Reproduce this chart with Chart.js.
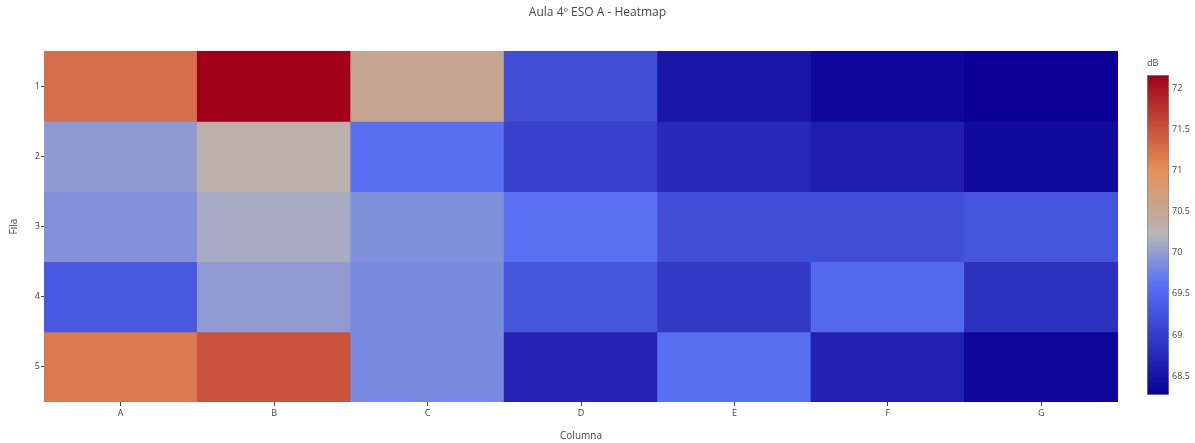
<!DOCTYPE html>
<html>
<head>
<meta charset="utf-8">
<script src="https://cdn.jsdelivr.net/npm/chart.js@4/dist/chart.umd.min.js"></script>
<style>
  body { margin: 0; background: #fff; }
  #wrap { position: relative; width: 1195px; height: 443px; }
  #mapa { position: absolute; left: 0; top: 0; }
  #barra { position: absolute; left: 1145px; top: 50px; }
</style>
</head>
<body>
<div id="wrap">
  <canvas id="mapa" width="1195" height="443"></canvas>
  <canvas id="barra" width="50" height="360"></canvas>
</div>
<script>
// datos (dB)
const columnas = ['A', 'B', 'C', 'D', 'E', 'F', 'G'];
const filas = [1, 2, 3, 4, 5];
const fila1 = [71.27, 72.16, 70.53, 69.20, 68.53, 68.35, 68.27];
const fila2 = [69.97, 70.33, 69.59, 69.04, 68.78, 68.62, 68.39];
const fila3 = [69.89, 70.12, 69.88, 69.61, 69.20, 69.20, 69.28];
const fila4 = [69.32, 69.98, 69.83, 69.28, 68.95, 69.51, 68.85];
const fila5 = [71.18, 71.50, 69.83, 68.70, 69.59, 68.66, 68.35];
const ticksBarra = [68.5, 69, 69.5, 70, 70.5, 71, 71.5, 72];

const valores = [fila1, fila2, fila3, fila4, fila5];

// escala de color (azul -> gris -> rojo)
const escala = [
    [0, [10, 0, 150]],
    [0.35, [90, 115, 245]],
    [0.5, [182, 182, 185]],
    [0.6, [202, 162, 135]],
    [0.7, [230, 145, 90]],
    [1, [160, 0, 25]]
];

const todos = valores.flat();
const zMin = Math.min(...todos);
const zMax = Math.max(...todos);

function colorPara(v) {
    const t = (v - zMin) / (zMax - zMin);
    for (let i = 1; i < escala.length; i++) {
        const [t0, c0] = escala[i - 1];
        const [t1, c1] = escala[i];
        if (t <= t1) {
            const f = (t - t0) / (t1 - t0);
            const c = c0.map((x, k) => Math.round(x + (c1[k] - x) * f));
            return `rgb(${c[0]}, ${c[1]}, ${c[2]})`;
        }
    }
    const c = escala[escala.length - 1][1];
    return `rgb(${c[0]}, ${c[1]}, ${c[2]})`;
}

const fuente = "'Open Sans', 'Noto Sans', sans-serif";
const gris = '#444';

new Chart(document.getElementById('mapa').getContext('2d'), {
    type: 'bar',
    data: {
        labels: columnas,
        datasets: filas.map((f, i) => ({
            label: 'Fila ' + f,
            data: valores[i].map(() => [f - 0.5, f + 0.5]),
            valores: valores[i],
            backgroundColor: valores[i].map(colorPara),
            grouped: false,
            barPercentage: 1,
            categoryPercentage: 1,
            borderWidth: 0,
            inflateAmount: 0.5
        }))
    },
    options: {
        responsive: false,
        animation: false,
        layout: { padding: 0 },
        plugins: {
            legend: { display: false },
            title: {
                display: true,
                text: 'Aula 4º ESO A - Heatmap',
                color: gris,
                font: { family: fuente, size: 12, weight: 'normal', lineHeight: 1.2 },
                padding: { top: 5.8, bottom: 30.8 }
            },
            tooltip: {
                callbacks: {
                    label: function(item) {
                        return `${item.dataset.valores[item.dataIndex]} dB`;
                    }
                }
            }
        },
        scales: {
            x: {
                type: 'category',
                afterFit: s => { s.height = 41; },
                grid: { drawOnChartArea: false, offset: false, tickLength: 4, color: gris },
                border: { display: false },
                ticks: { color: gris, font: { family: fuente, size: 9 }, padding: 2 },
                title: {
                    display: true, text: 'Columna', color: gris,
                    font: { family: fuente, size: 10, lineHeight: 1.2 },
                    padding: { top: 0, bottom: 1 }
                }
            },
            y: {
                type: 'linear',
                reverse: true,
                min: 0.5,
                max: 5.5,
                afterFit: s => { s.width = 44; },
                afterBuildTicks: s => { s.ticks = filas.map(v => ({ value: v })); },
                grid: { drawOnChartArea: false, tickLength: 3, color: gris },
                border: { display: false },
                ticks: { color: gris, font: { family: fuente, size: 9 }, padding: 1 },
                title: {
                    display: true, text: 'Fila', color: gris,
                    font: { family: fuente, size: 10, lineHeight: 1.2 },
                    padding: { top: 8, bottom: 0 }
                }
            },
            // hueco a la derecha para la barra de color
            hueco: {
                type: 'linear',
                position: 'right',
                afterFit: s => { s.width = 77; },
                ticks: { display: false },
                grid: { display: false },
                border: { display: false }
            }
        }
    }
});

// barra de color
new Chart(document.getElementById('barra').getContext('2d'), {
    type: 'bar',
    data: {
        labels: [''],
        datasets: [{
            data: [[zMin, zMax]],
            backgroundColor: function(ctx) {
                const chart = ctx.chart;
                const area = chart.chartArea;
                if (!area) return null;
                const g = chart.ctx.createLinearGradient(0, area.bottom, 0, area.top);
                escala.forEach(([t, c]) => g.addColorStop(t, `rgb(${c[0]}, ${c[1]}, ${c[2]})`));
                return g;
            },
            borderColor: '#888',
            borderWidth: 1,
            borderSkipped: false,
            barPercentage: 1,
            categoryPercentage: 1
        }]
    },
    options: {
        responsive: false,
        animation: false,
        layout: { padding: { left: 2, right: 0, top: 0, bottom: 15 } },
        plugins: {
            legend: { display: false },
            tooltip: { enabled: false },
            title: {
                display: true,
                text: 'dB',
                align: 'start',
                color: gris,
                font: { family: fuente, size: 9, weight: 'normal', lineHeight: 1.2 },
                padding: { top: 7.6, bottom: 6.6 }
            }
        },
        scales: {
            x: { display: false },
            y: {
                position: 'right',
                min: zMin,
                max: zMax,
                afterFit: s => { s.width = 26; },
                afterBuildTicks: s => { s.ticks = ticksBarra.map(v => ({ value: v })); },
                grid: { display: false, drawTicks: false, tickLength: 0 },
                border: { display: false },
                ticks: {
                    color: gris, font: { family: fuente, size: 9 }, padding: 3,
                    callback: v => String(v)
                }
            }
        }
    }
});
</script>
</body>
</html>
